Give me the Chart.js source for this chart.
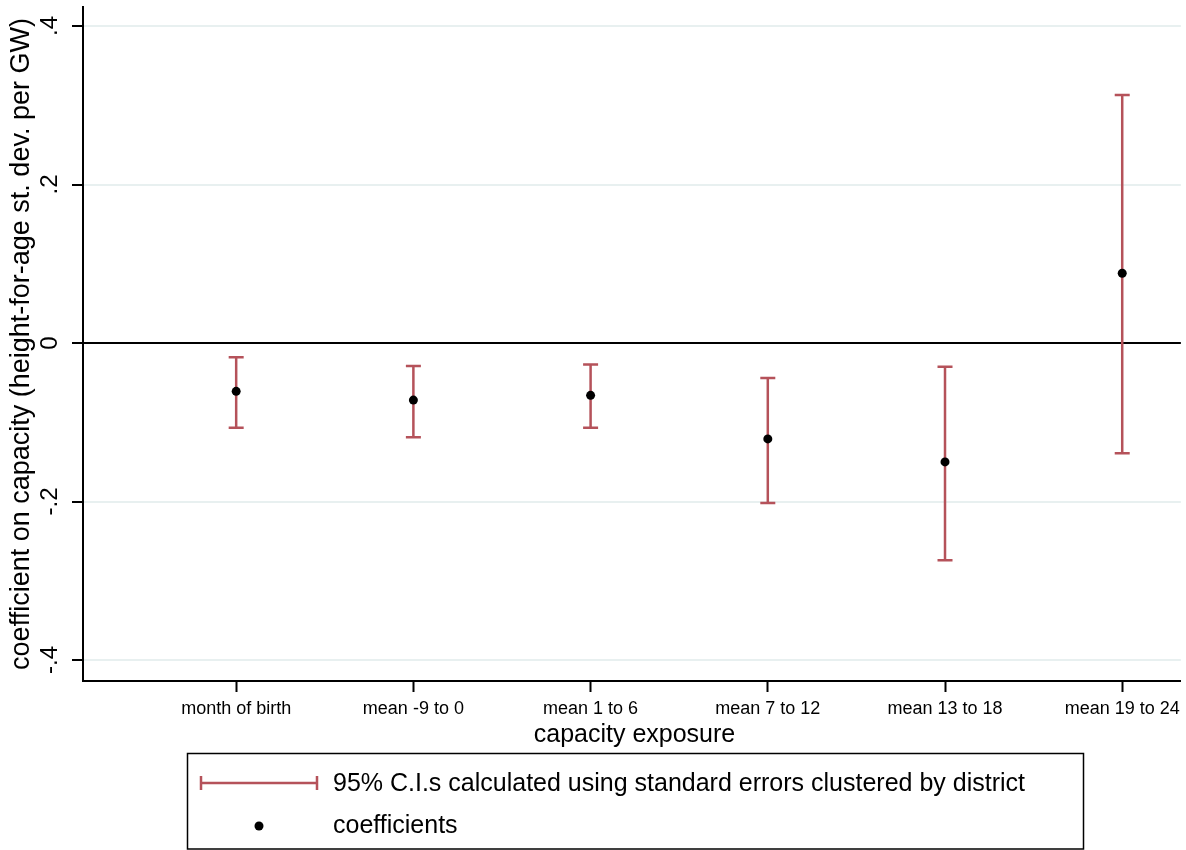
<!DOCTYPE html>
<html>
<head>
<meta charset="utf-8">
<script src="https://cdn.jsdelivr.net/npm/chart.js@4/dist/chart.umd.min.js"></script>
<style>
  html, body { margin: 0; padding: 0; background: #fff; }
  #wrap { width: 1186px; height: 850px; }
</style>
</head>
<body>
<div id="wrap"><canvas id="c" width="1186" height="850"></canvas></div>
<script>
// ---- data ----
const categories = ['month of birth', 'mean -9 to 0', 'mean 1 to 6', 'mean 7 to 12', 'mean 13 to 18', 'mean 19 to 24'];
const coefficients = [-0.061, -0.072, -0.066, -0.121, -0.150, 0.088];
const ciLow = [-0.107, -0.119, -0.107, -0.202, -0.274, -0.139];
const ciHigh = [-0.018, -0.029, -0.027, -0.044, -0.030, 0.313];
const yTickValues = [-0.4, -0.2, 0, 0.2, 0.4];
const yTickLabels = ['-.4', '-.2', '0', '.2', '.4'];
const xTitle = 'capacity exposure';
const yTitle = 'coefficient on capacity (height-for-age st. dev. per GW)';
const legendLabels = ['95% C.I.s calculated using standard errors clustered by district', 'coefficients'];

const FONT = '"Liberation Sans", Arial, Helvetica, sans-serif';
const CI_COLOR = 'rgb(181,82,90)';

const ciPlugin = {
  id: 'ciPlugin',
  beforeDatasetsDraw(chart) {
    const ctx = chart.ctx;
    const xs = chart.scales.x, ys = chart.scales.y;
    ctx.save();
    ctx.strokeStyle = CI_COLOR;
    ctx.lineWidth = 2.5;
    categories.forEach((c, i) => {
      const px = xs.getPixelForValue(i + 1);
      const pl = ys.getPixelForValue(ciLow[i]);
      const ph = ys.getPixelForValue(ciHigh[i]);
      ctx.beginPath();
      ctx.moveTo(px, pl); ctx.lineTo(px, ph);
      ctx.moveTo(px - 7.5, pl); ctx.lineTo(px + 7.5, pl);
      ctx.moveTo(px - 7.5, ph); ctx.lineTo(px + 7.5, ph);
      ctx.stroke();
    });
    ctx.restore();
  },
  afterDraw(chart) {
    const ctx = chart.ctx;
    const ys = chart.scales.y;
    const area = chart.chartArea;
    ctx.save();
    ctx.fillStyle = '#000';
    // rotated y tick labels
    ctx.font = '24px ' + FONT;
    ctx.textAlign = 'center';
    ctx.textBaseline = 'alphabetic';
    yTickValues.forEach((v, i) => {
      const py = ys.getPixelForValue(v);
      ctx.save();
      ctx.translate(57, py);
      ctx.rotate(-Math.PI / 2);
      ctx.fillText(yTickLabels[i], 0, 0);
      ctx.restore();
    });
    // y title
    ctx.save();
    ctx.translate(29, 344);
    ctx.rotate(-Math.PI / 2);
    ctx.font = '27px ' + FONT;
    ctx.fillText(yTitle, 0, 0);
    ctx.restore();
    // x title
    ctx.font = '25px ' + FONT;
    ctx.textAlign = 'center';
    ctx.fillText(xTitle, 634.5, 742);
    // legend box
    ctx.strokeStyle = '#000';
    ctx.lineWidth = 1.5;
    ctx.strokeRect(187.5, 753.5, 896, 95.5);
    // CI symbol
    ctx.strokeStyle = CI_COLOR;
    ctx.lineWidth = 2.5;
    ctx.beginPath();
    ctx.moveTo(200, 783); ctx.lineTo(318, 783);
    ctx.moveTo(201, 776); ctx.lineTo(201, 790);
    ctx.moveTo(317, 776); ctx.lineTo(317, 790);
    ctx.stroke();
    // dot symbol
    ctx.fillStyle = '#000';
    ctx.beginPath();
    ctx.arc(259, 826, 4.5, 0, Math.PI * 2);
    ctx.fill();
    // legend texts
    ctx.font = '25px ' + FONT;
    ctx.textAlign = 'left';
    ctx.textBaseline = 'middle';
    ctx.fillText(legendLabels[0], 333, 784);
    ctx.fillText(legendLabels[1], 333, 826);
    ctx.restore();
  }
};

new Chart(document.getElementById('c'), {
  type: 'scatter',
  data: {
    datasets: [{
      data: coefficients.map((v, i) => ({ x: i + 1, y: v })),
      pointRadius: 4.5,
      pointHoverRadius: 4.5,
      backgroundColor: '#000',
      borderColor: '#000',
      borderWidth: 0
    }]
  },
  options: {
    responsive: false,
    animation: false,
    devicePixelRatio: 1,
    layout: { padding: { top: 7, left: 0, right: 0, bottom: 0 } },
    plugins: { legend: { display: false }, tooltip: { enabled: false } },
    scales: {
      x: {
        type: 'linear',
        min: 0.1356,
        max: 6.331,
        afterBuildTicks: (s) => { s.ticks = categories.map((c, i) => ({ value: i + 1 })); },
        afterFit: (s) => { s.height = 169; },
        ticks: {
          callback: (v) => categories[Math.round(v) - 1],
          font: { size: 18, family: FONT },
          color: '#000',
          padding: 6,
          autoSkip: false,
          maxRotation: 0,
          minRotation: 0
        },
        grid: { drawOnChartArea: false, tickLength: 11, tickColor: '#000', tickWidth: 2 },
        border: { color: '#000', width: 2 }
      },
      y: {
        type: 'linear',
        min: -0.4265,
        max: 0.424,
        afterBuildTicks: (s) => { s.ticks = yTickValues.map(v => ({ value: v })); },
        afterFit: (s) => { s.width = 83; },
        ticks: { display: false },
        grid: {
          color: (c) => (c.tick && c.tick.value === 0) ? '#000' : '#e8f0f0',
          lineWidth: 2,
          tickLength: 11,
          tickColor: '#000',
          tickWidth: 2
        },
        border: { color: '#000', width: 2 }
      }
    }
  },
  plugins: [ciPlugin]
});
</script>
</body>
</html>
